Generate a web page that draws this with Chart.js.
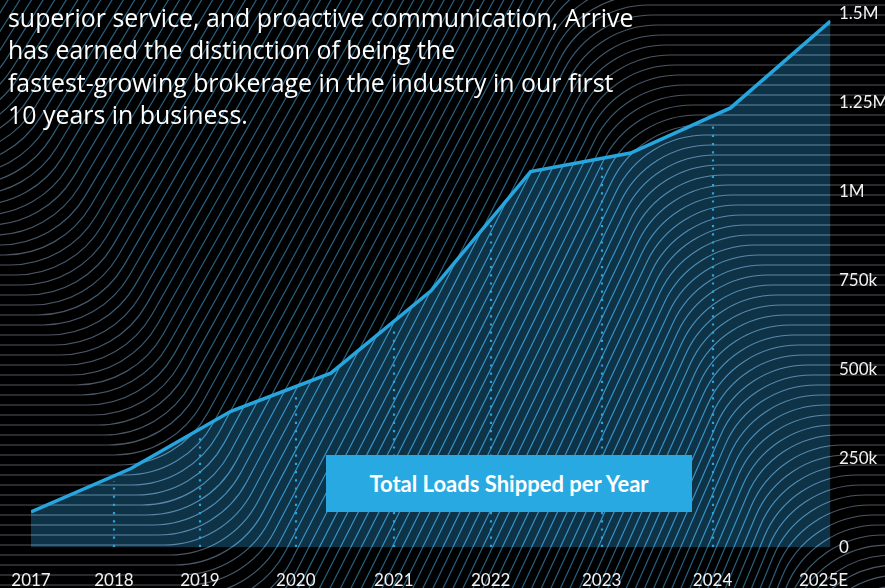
<!DOCTYPE html>
<html>
<head>
<meta charset="utf-8">
<script src="https://cdn.jsdelivr.net/npm/chart.js@4.4.1/dist/chart.umd.min.js"></script>
<style>
  html, body { margin: 0; padding: 0; background: #000; }
  #wrap { position: relative; width: 885px; height: 588px; overflow: hidden; background: #000; }
  #c { position: absolute; left: 0; top: 0; display: block; }
  #blurb {
    position: absolute; left: 8px; top: 1px; margin: 0;
    font-family: "Open Sans", Lato, sans-serif; font-size: 24.9px; line-height: 32.3px;
    color: #fff; white-space: nowrap;
  }
  #badge {
    position: absolute; left: 326px; top: 455px; width: 366px; height: 57px;
    background: #29a9e1; color: #fff;
    font-family: Lato, "Noto Sans", sans-serif; font-weight: 700; font-size: 22px;
    line-height: 57px; text-align: center; white-space: nowrap;
  }
</style>
</head>
<body>
<div id="wrap">
  <canvas id="c" width="885" height="588"></canvas>
  <p id="blurb"></p>
  <div id="badge"></div>
</div>
<script>
// ---- data ----
const years = ['2017', '2018', '2019', '2020', '2021', '2022', '2023', '2024', '2025E'];
const loads = [100000, 222000, 383000, 490000, 721000, 1057000, 1109000, 1236000, 1480000];
// where each year label sits along the series (point-index units)
const yearTickAt = [0, 0.83, 1.69, 2.65, 3.63, 4.60, 5.71, 6.82, 7.93];
const loadTicks = [0, 250000, 500000, 750000, 1000000, 1250000, 1500000];
const badgeText = 'Total Loads Shipped per Year';
const blurbLines = [
  'superior service, and proactive communication, Arrive',
  'has earned the distinction of being the',
  'fastest-growing brokerage in the industry in our first',
  '10 years in business.'
];

document.getElementById('badge').textContent = badgeText;
document.getElementById('blurb').innerHTML = blurbLines.map(s => s.replace(/&/g, '&amp;')).join('<br>');

const fmtLoads = v => v === 0 ? '0' : (v >= 1e6 ? (v / 1e6) + 'M' : (v / 1e3) + 'k');

// value of the series at a fractional index (straight segments between points)
function loadAt(t) {
  const i = Math.min(Math.floor(t), loads.length - 2);
  const f = t - i;
  return loads[i] + (loads[i + 1] - loads[i]) * f;
}

// decorative flowing line field behind everything
const backdrop = {
  id: 'backdrop',
  beforeDraw(chart) {
    const ctx = chart.ctx;
    ctx.save();
    ctx.globalCompositeOperation = 'source-over';
    ctx.fillStyle = '#000';
    ctx.fillRect(0, 0, chart.width, chart.height);
    ctx.lineWidth = 1.2;
    const grey = 'rgb(80,84,96)';
    const blue = 'rgb(38,96,128)';
    for (let k = -30; k <= 125; k++) {
      const yB = 145 + 10 * k, xB = 5.6 * k;
      const yC = yB - 620, xC = 590 + 4.3 * (k - 48.5);
      const g = ctx.createLinearGradient(xB - 60, yB, xC + 60, yC);
      g.addColorStop(0, grey);
      g.addColorStop(0.16, blue);
      g.addColorStop(0.84, blue);
      g.addColorStop(1, grey);
      ctx.strokeStyle = g;
      ctx.beginPath();
      ctx.moveTo(-400, yB);
      ctx.arcTo(xB, yB, xC, yC, 100);
      ctx.arcTo(xC, yC, 1400, yC, 100);
      ctx.lineTo(1400, yC);
      ctx.stroke();
    }
    ctx.restore();
  }
};

// the area tint is added on top of the line field so the lines glow through it
const additiveFill = {
  id: 'additiveFill',
  beforeDatasetsDraw(chart) { chart.ctx.globalCompositeOperation = 'lighter'; },
  afterDatasetDraw(chart, args) {
    if (args.index === 1) chart.ctx.globalCompositeOperation = 'source-over';
  }
};

// dotted year markers rising from the baseline up to the series line
const yearMarkers = {
  id: 'yearMarkers',
  afterDatasetsDraw(chart) {
    const ctx = chart.ctx, xs = chart.scales.x, ys = chart.scales.y;
    ctx.save();
    ctx.globalCompositeOperation = 'source-over';
    ctx.strokeStyle = '#26a6e1';
    ctx.lineWidth = 2.2;
    ctx.lineCap = 'butt';
    ctx.setLineDash([2.2, 6]);
    const base = ys.getPixelForValue(0) - 1;
    for (let i = 1; i < yearTickAt.length - 1; i++) {
      const px = Math.round(xs.getPixelForValue(yearTickAt[i]));
      const top = ys.getPixelForValue(loadAt(yearTickAt[i])) + 5;
      ctx.beginPath();
      ctx.moveTo(px, Math.round(base));
      ctx.lineTo(px, top);
      ctx.stroke();
    }
    ctx.restore();
  }
};

const points = loads.map((v, i) => ({ x: i, y: v }));

// keep the plot box fixed: no automatic label overflow padding
function noEdgePadding(scale) {
  scale.paddingTop = 0;
  scale.paddingBottom = 0;
  scale.paddingLeft = 0;
  scale.paddingRight = 0;
}

new Chart(document.getElementById('c'), {
  type: 'line',
  data: {
    datasets: [
      {
        label: 'Loads',
        data: points,
        borderColor: '#27a5de',
        borderWidth: 3.5,
        borderJoinStyle: 'miter',
        pointRadius: 0,
        fill: false,
        tension: 0
      },
      {
        label: 'Loads area',
        data: points,
        borderWidth: 0,
        pointRadius: 0,
        backgroundColor: 'rgb(14,50,70)',
        fill: 'origin',
        tension: 0
      }
    ]
  },
  options: {
    responsive: false,
    animation: false,
    devicePixelRatio: 1,
    layout: { padding: { left: 31, top: 14, right: 0, bottom: 0 } },
    plugins: { legend: { display: false }, tooltip: { enabled: false } },
    scales: {
      x: {
        type: 'linear',
        min: 0,
        max: loads.length - 1,
        grid: { display: false, drawTicks: false },
        border: { display: false },
        afterBuildTicks(scale) { scale.ticks = yearTickAt.map(v => ({ value: v })); },
        afterFit(scale) { scale.height = 40.5; noEdgePadding(scale); },
        ticks: {
          autoSkip: false,
          maxRotation: 0,
          padding: 23,
          color: '#f2f2f2',
          font: { family: 'Lato', size: 17 },
          callback: (v, i) => years[i]
        }
      },
      y: {
        position: 'right',
        min: 0,
        max: 1500000,
        grid: { display: false, drawTicks: false },
        border: { display: false },
        afterBuildTicks(scale) { scale.ticks = loadTicks.map(v => ({ value: v })); },
        afterFit(scale) { scale.width = 54.5; noEdgePadding(scale); },
        ticks: {
          padding: 8.5,
          color: '#f2f2f2',
          font: { family: 'Lato', size: 17 },
          callback: v => fmtLoads(v)
        }
      }
    }
  },
  plugins: [backdrop, additiveFill, yearMarkers]
});
</script>
</body>
</html>
